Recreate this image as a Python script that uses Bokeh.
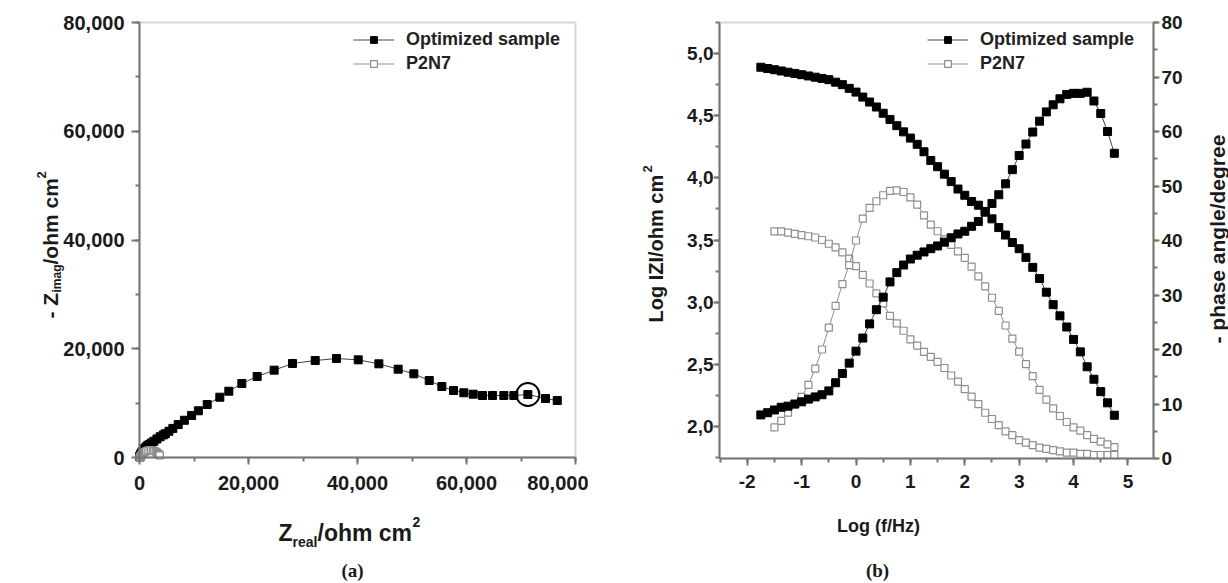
import math
from bokeh.plotting import figure
from bokeh.models import (Range1d, LinearAxis, SingleIntervalTicker, NumeralTickFormatter,
                          CustomJSTickFormatter, Label, Legend, LegendItem, BoxAnnotation)
from bokeh.layouts import row
from bokeh.embed import file_html
from bokeh.resources import INLINE

# ---------------- data ----------------
series_names = ["Optimized sample", "P2N7"]

# (a) Nyquist plot
zr_opt = [70, 80, 90, 100, 120, 150, 200, 250, 320, 410, 530, 730, 950, 1220, 1520, 1820,
          2200, 2640, 3200, 3780, 4370, 4750, 5410, 6120, 7100, 8240, 9560, 10800, 12420,
          14740, 16390, 18780, 21590, 24710, 28080, 32240, 36150, 40130, 43920, 47460, 50340,
          53160, 55480, 57620, 59510, 61230, 62940, 64780, 66850, 68690, 71260, 74500, 76650]
zi_opt = [100, 130, 170, 220, 280, 350, 470, 580, 710, 870, 1080, 1370, 1650, 1940, 2220, 2410,
          2670, 2980, 3410, 3810, 4150, 4370, 4820, 5350, 6060, 6850, 7740, 8590, 9750,
          11090, 12190, 13610, 14900, 16060, 17290, 17840, 18200, 17960, 17230, 16240, 15390,
          14160, 13060, 12320, 11900, 11640, 11400, 11400, 11400, 11400, 11590, 10850, 10480]
circled_index = 50

zr_p2n7 = [59, 62, 65, 73, 100, 160, 199, 247, 270, 336, 387, 442, 508, 650, 798, 981, 1194,
           1483, 1823, 2130, 2432, 2696, 2971, 3175, 3294, 3400, 3495, 3592, 3690, 3700]
zi_p2n7 = [3, 6, 12, 26, 57, 120, 162, 220, 267, 372, 444, 512, 587, 729, 862, 1016, 1153,
           1266, 1300, 1331, 1293, 1200, 1081, 940, 791, 680, 610, 530, 446, 370]

# (b) Bode plot
logf_opt = [-1.75, -1.625, -1.5, -1.375, -1.25, -1.125, -1.0, -0.875, -0.75, -0.625, -0.5,
            -0.375, -0.25, -0.125, 0.0, 0.125, 0.25, 0.375, 0.5, 0.625, 0.75, 0.875, 1.0,
            1.125, 1.25, 1.375, 1.5, 1.625, 1.75, 1.875, 2.0, 2.125, 2.25, 2.375, 2.5, 2.625,
            2.75, 2.875, 3.0, 3.125, 3.25, 3.375, 3.5, 3.625, 3.75, 3.875, 4.0, 4.125, 4.25,
            4.375, 4.5, 4.625, 4.75]
logz_opt = [4.89, 4.88, 4.87, 4.86, 4.85, 4.84, 4.83, 4.82, 4.81, 4.80, 4.79, 4.77, 4.75,
            4.72, 4.69, 4.65, 4.61, 4.57, 4.52, 4.47, 4.42, 4.37, 4.32, 4.27, 4.21, 4.14,
            4.09, 4.03, 3.97, 3.91, 3.86, 3.81, 3.78, 3.73, 3.67, 3.60, 3.54, 3.48, 3.43,
            3.36, 3.28, 3.19, 3.08, 2.98, 2.89, 2.80, 2.70, 2.60, 2.48, 2.38, 2.28, 2.19, 2.09]
phase_opt = [8.0, 8.4, 8.9, 9.4, 9.6, 10.0, 10.4, 10.9, 11.3, 11.7, 12.4, 13.9, 15.6, 17.5,
             19.7, 22.1, 24.7, 27.3, 29.6, 32.4, 34.1, 35.5, 36.6, 37.3, 37.9, 38.5, 39.0,
             39.7, 40.5, 41.2, 41.7, 42.6, 43.5, 45.2, 46.8, 48.4, 50.4, 53.0, 55.6, 57.7,
             59.9, 61.9, 63.6, 64.9, 66.0, 66.8, 67.0, 67.0, 67.2, 65.6, 63.3, 60.0, 56.0]

logf_p2n7 = [-1.5, -1.375, -1.25, -1.125, -1.0, -0.875, -0.75, -0.625, -0.5, -0.375, -0.25,
             -0.125, 0.0, 0.125, 0.25, 0.375, 0.5, 0.625, 0.75, 0.875, 1.0, 1.125, 1.25,
             1.375, 1.5, 1.625, 1.75, 1.875, 2.0, 2.125, 2.25, 2.375, 2.5, 2.625, 2.75,
             2.875, 3.0, 3.125, 3.25, 3.375, 3.5, 3.625, 3.75, 3.875, 4.0, 4.125, 4.25,
             4.375, 4.5, 4.625, 4.75]
logz_p2n7 = [3.57, 3.57, 3.56, 3.55, 3.54, 3.53, 3.52, 3.50, 3.47, 3.44, 3.40, 3.35, 3.29,
             3.22, 3.15, 3.07, 2.99, 2.89, 2.83, 2.77, 2.70, 2.65, 2.60, 2.56, 2.52, 2.47,
             2.41, 2.36, 2.30, 2.24, 2.18, 2.11, 2.06, 2.01, 1.96, 1.93, 1.89, 1.87, 1.85,
             1.83, 1.82, 1.81, 1.80, 1.79, 1.79, 1.78, 1.78, 1.77, 1.77, 1.77, 1.77]
phase_p2n7 = [5.7, 6.9, 8.4, 9.9, 11.3, 13.5, 16.5, 20.0, 24.0, 28.0, 32.0, 35.5, 40.0, 44.0,
              46.0, 47.2, 48.3, 49.1, 49.2, 48.9, 47.9, 46.6, 44.6, 42.9, 41.7, 40.2, 39.2,
              38.0, 36.8, 35.2, 33.4, 31.6, 29.5, 27.1, 24.4, 22.0, 19.6, 17.3, 15.1, 12.6,
              10.8, 9.2, 7.8, 6.7, 5.7, 5.1, 4.3, 3.6, 3.1, 2.6, 2.1]

# axis limits
a_x_lim = (0, 80000)
a_y_lim = (0, 80000)
b_x_lim = (-2.51, 5.47)
b_y_lim = (1.742, 5.25)
b_phase_lim = (0, 80)

# ---------------- layout geometry (pixels) ----------------
W1, W2, H = 588, 640, 583
A_PX = (139, 575)          # plot area of (a), x pixels in its canvas
A_PY = (H - 457, H - 22)   # plot area of (a), y pixels from canvas bottom
B_PX = (131, 565)          # plot area of (b), x pixels in its canvas
B_PY = (H - 458, H - 22)


def stretch(lim, pix, total):
    lo, hi = lim
    k = (hi - lo) / (pix[1] - pix[0])
    return Range1d(lo - pix[0] * k, hi + (total - pix[1]) * k)


# ---------------- styles ----------------
FONT = "Liberation Sans"
SERIF = "Liberation Serif"
AX_COL = "#767676"
TXT = "#1a1a1a"
BLACK_LINE = "#444444"
GRAY = "#8e8e8e"
R = math.pi / 2


def style_axis(ax, tick_out=7, standoff=5, size="19px"):
    ax.axis_line_color = AX_COL
    ax.axis_line_width = 2
    ax.major_tick_line_color = AX_COL
    ax.major_tick_line_width = 2
    ax.minor_tick_line_color = AX_COL
    ax.minor_tick_line_width = 2
    ax.major_tick_out = tick_out
    ax.major_tick_in = 0
    ax.minor_tick_out = 4
    ax.minor_tick_in = 0
    ax.major_label_standoff = standoff
    ax.major_label_text_font = FONT
    ax.major_label_text_font_style = "bold"
    ax.major_label_text_font_size = size
    ax.major_label_text_color = TXT


def lab(p, text, sx, sy, size, angle=0.0, align="left", baseline="alphabetic",
        font=FONT, style="bold"):
    p.add_layout(Label(x=sx, y=sy, x_units="screen", y_units="screen", text=text,
                       angle=angle, text_align=align, text_baseline=baseline,
                       text_font=font, text_font_size=size, text_font_style=style,
                       text_color=TXT))


def make_legend(items, lx, ly):
    return Legend(items=items, location=(lx, ly), border_line_color=None,
                  background_fill_alpha=0, glyph_width=41, glyph_height=17,
                  label_height=20, label_standoff=12, spacing=3, padding=4, margin=0,
                  label_text_font=FONT, label_text_font_size="18px",
                  label_text_font_style="bold", label_text_color="#222222")


def base_figure(w, xr, yr):
    p = figure(width=w, height=H, x_range=xr, y_range=yr, output_backend="svg",
               toolbar_location=None, min_border=0, min_border_left=0,
               min_border_right=0, min_border_top=0, min_border_bottom=0)
    p.title.visible = False
    p.xgrid.visible = False
    p.ygrid.visible = False
    p.outline_line_color = None
    p.background_fill_color = "white"
    p.border_fill_color = "white"
    return p


# ---------------- (a) ----------------
p1 = base_figure(W1, stretch(a_x_lim, A_PX, W1), stretch(a_y_lim, A_PY, H))
p1.xaxis.fixed_location = a_y_lim[0]
p1.xaxis.bounds = a_x_lim
p1.yaxis.fixed_location = a_x_lim[0]
p1.yaxis.bounds = a_y_lim
for ax in (p1.xaxis[0], p1.yaxis[0]):
    ax.ticker = SingleIntervalTicker(interval=20000, num_minor_ticks=2)
    ax.formatter = NumeralTickFormatter(format="0,0")
style_axis(p1.xaxis[0], tick_out=7, standoff=11, size="20px")
style_axis(p1.yaxis[0], tick_out=8, standoff=7, size="20px")
p1.add_layout(BoxAnnotation(left=a_x_lim[0], right=a_x_lim[1], bottom=a_y_lim[0],
                            top=a_y_lim[1], fill_alpha=0, line_color=AX_COL, line_width=2))

a_ol = p1.line(zr_opt, zi_opt, line_color=BLACK_LINE, line_width=1)
a_os = p1.scatter(zr_opt, zi_opt, marker="square", size=8, fill_color="black",
                  line_color="black")
a_pl = p1.line(zr_p2n7, zi_p2n7, line_color=GRAY, line_width=1)
a_ps = p1.scatter(zr_p2n7, zi_p2n7, marker="square", size=7, fill_color="white",
                  line_color=GRAY, line_width=1.2)
p1.scatter([zr_opt[circled_index]], [zi_opt[circled_index]], marker="circle", size=23,
           fill_color=None, line_color="black", line_width=2)

p1.add_layout(make_legend([LegendItem(label=series_names[0], renderers=[a_ol, a_os]),
                           LegendItem(label=series_names[1], renderers=[a_pl, a_ps])],
                          353, 509))

# axis titles of (a)  (screen px: x from canvas left, y from canvas bottom)
lab(p1, "Z", 278, 51, "23px")
lab(p1, "real", 292, 42, "14px")
lab(p1, "/ohm cm", 317, 51, "23px")
lab(p1, "2", 412, 62, "14px")

lab(p1, "- Z", 50, 265, "21px", angle=R)
lab(p1, "imag", 56, 291, "12px", angle=R)
lab(p1, "/ohm cm", 50, 319, "21px", angle=R)
lab(p1, "2", 41, 405, "13px", angle=R)

lab(p1, "(a)", 352, 13, "19px", align="center", font=SERIF)

# ---------------- (b) ----------------
p2 = base_figure(W2, stretch(b_x_lim, B_PX, W2), stretch(b_y_lim, B_PY, H))
p2.extra_y_ranges = {"phase": stretch(b_phase_lim, B_PY, H)}
p2.xaxis.fixed_location = b_y_lim[0]
p2.xaxis.bounds = b_x_lim
p2.yaxis.fixed_location = b_x_lim[0]
p2.yaxis.bounds = b_y_lim
p2.xaxis[0].ticker = SingleIntervalTicker(interval=1, num_minor_ticks=2)
p2.xaxis[0].formatter = CustomJSTickFormatter(code="return tick.toFixed(0);")
p2.yaxis[0].ticker = SingleIntervalTicker(interval=0.5, num_minor_ticks=2)
p2.yaxis[0].formatter = CustomJSTickFormatter(
    code="return tick.toFixed(1).replace('.', ',');")
style_axis(p2.xaxis[0], tick_out=7, standoff=9)
style_axis(p2.yaxis[0], tick_out=6, standoff=0)
ax_r = LinearAxis(y_range_name="phase", fixed_location=b_x_lim[1], bounds=b_phase_lim,
                  ticker=SingleIntervalTicker(interval=10, num_minor_ticks=2))
style_axis(ax_r, tick_out=6, standoff=2)
p2.add_layout(ax_r, "right")
p2.add_layout(BoxAnnotation(left=b_x_lim[0], right=b_x_lim[1], bottom=b_y_lim[0],
                            top=b_y_lim[1], fill_alpha=0, line_color=AX_COL, line_width=2))

b_pl = p2.line(logf_p2n7, logz_p2n7, line_color=GRAY, line_width=1)
b_ps = p2.scatter(logf_p2n7, logz_p2n7, marker="square", size=7, fill_color="white",
                  line_color=GRAY, line_width=1.2)
p2.line(logf_p2n7, phase_p2n7, line_color=GRAY, line_width=1, y_range_name="phase")
p2.scatter(logf_p2n7, phase_p2n7, marker="square", size=7, fill_color="white",
           line_color=GRAY, line_width=1.2, y_range_name="phase")

b_ol = p2.line(logf_opt, logz_opt, line_color=BLACK_LINE, line_width=1)
b_os = p2.scatter(logf_opt, logz_opt, marker="square", size=8, fill_color="black",
                  line_color="black")
p2.line(logf_opt, phase_opt, line_color=BLACK_LINE, line_width=1, y_range_name="phase")
p2.scatter(logf_opt, phase_opt, marker="square", size=8, fill_color="black",
           line_color="black", y_range_name="phase")

p2.add_layout(make_legend([LegendItem(label=series_names[0], renderers=[b_ol, b_os]),
                           LegendItem(label=series_names[1], renderers=[b_pl, b_ps])],
                          339, 509))

lab(p2, "Log IZI/ohm cm", 67, 261, "20px", angle=R)
lab(p2, "2", 59, 411, "13px", angle=R)
lab(p2, "- phase angle/degree", 629, 240, "21px", angle=R)
lab(p2, "Log (f/Hz)", 290, 58, "18px", align="center")
lab(p2, "(b)", 289, 13, "19px", align="center", font=SERIF)

layout = row(p1, p2)
open("out.html", "w").write(file_html(layout, INLINE))
